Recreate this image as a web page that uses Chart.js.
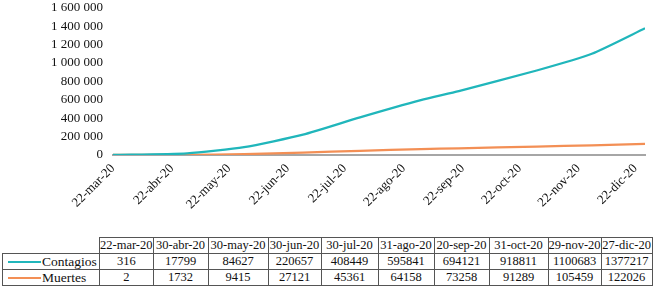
<!DOCTYPE html>
<html>
<head>
<meta charset="utf-8">
<script src="https://cdn.jsdelivr.net/npm/chart.js@4"></script>
<style>
  body { margin: 0; background: #fff; font-family: "Liberation Serif", "Times New Roman", "DejaVu Serif", serif; }
  #wrap { position: relative; width: 655px; height: 294px; overflow: hidden; }
  #chartBox { position: absolute; left: 0; top: -10px; width: 655px; height: 245px; }
  #dataTable {
    position: absolute; left: 2px; top: 237px;
    border-collapse: collapse; table-layout: fixed;
    font-size: 12.5px; color: #111;
  }
  #dataTable td { font-family: "Liberation Serif", "Times New Roman", "DejaVu Serif", serif; border: 1px solid #555; height: 15px; padding: 0; text-align: center; white-space: nowrap; line-height: 15px; overflow: hidden; }
  #dataTable td.blank { border-top: none; border-left: none; }
  #dataTable td.legend { text-align: left; padding-left: 5px; font-size: 13.5px; }
  .key { display: inline-block; width: 33px; height: 2px; vertical-align: middle; margin-right: 1px; position: relative; top: -1px; }
</style>
</head>
<body>
<div id="wrap">
  <div id="chartBox"><canvas id="covidChart"></canvas></div>
  <table id="dataTable"></table>
</div>
<script>
// x axis tick labels (22nd of each month)
const tickLabels = ["22-mar-20", "22-abr-20", "22-may-20", "22-jun-20", "22-jul-20",
                    "22-ago-20", "22-sep-20", "22-oct-20", "22-nov-20", "22-dic-20"];
// dates of the data points (also the table header)
const tableDates = ["22-mar-20", "30-abr-20", "30-may-20", "30-jun-20", "30-jul-20",
                    "31-ago-20", "20-sep-20", "31-oct-20", "29-nov-20", "27-dic-20"];
const contagios = [316, 17799, 84627, 220657, 408449, 595841, 694121, 918811, 1100683, 1377217];
const muertes = [2, 1732, 9415, 27121, 45361, 64158, 73258, 91289, 105459, 122026];
const seriesNames = ["Contagios", "Muertes"];

const tealColor = "#20b6bb";
const orangeColor = "#f38f55";
const fontFamily = '"Liberation Serif", "Times New Roman", "DejaVu Serif", serif';
const colWidths = [97, 53, 55, 60, 53, 57, 56, 55, 59, 52, 51];

const monthIdx = { ene: 0, feb: 1, mar: 2, abr: 3, may: 4, jun: 5, jul: 6, ago: 7, sep: 8, oct: 9, nov: 10, dic: 11 };
function parseDate(s) {
  const [d, m, y] = s.split("-");
  return Date.UTC(2000 + Number(y), monthIdx[m], Number(d));
}
const DAY = 86400000;
const origin = parseDate(tableDates[0]);
const dayOf = s => Math.round((parseDate(s) - origin) / DAY);
const pointDays = tableDates.map(dayOf);
const tickDays = tickLabels.map(dayOf);

function fmt(v) {
  return String(v).replace(/\B(?=(\d{3})+(?!\d))/g, " ");
}

// data table under the chart
const table = document.getElementById("dataTable");
const colgroup = document.createElement("colgroup");
colWidths.forEach(w => {
  const c = document.createElement("col");
  c.style.width = w + "px";
  colgroup.appendChild(c);
});
table.appendChild(colgroup);

const head = document.createElement("tr");
head.innerHTML = '<td class="blank"></td>' + tableDates.map(d => "<td>" + d + "</td>").join("");
table.appendChild(head);

[[seriesNames[0], contagios, tealColor], [seriesNames[1], muertes, orangeColor]].forEach(([name, vals, color]) => {
  const tr = document.createElement("tr");
  tr.innerHTML = '<td class="legend"><span class="key" style="background:' + color + '"></span>' + name + "</td>" +
    vals.map(v => "<td>" + v + "</td>").join("");
  table.appendChild(tr);
});

const ctx = document.getElementById("covidChart").getContext("2d");
new Chart(ctx, {
  type: "line",
  data: {
    datasets: [
      {
        label: seriesNames[0],
        data: contagios.map((v, i) => ({ x: pointDays[i], y: v })),
        borderColor: tealColor,
        borderWidth: 2.25,
        pointRadius: 0,
        tension: 0.2
      },
      {
        label: seriesNames[1],
        data: muertes.map((v, i) => ({ x: pointDays[i], y: v })),
        borderColor: orangeColor,
        borderWidth: 2.25,
        pointRadius: 0,
        tension: 0.2
      }
    ]
  },
  options: {
    responsive: true,
    maintainAspectRatio: false,
    animation: false,
    layout: { padding: { left: 0, right: 10, top: -3, bottom: 0 } },
    plugins: {
      legend: { display: false },
      tooltip: { enabled: false }
    },
    scales: {
      x: {
        type: "linear",
        min: pointDays[0],
        max: pointDays[pointDays.length - 1],
        grid: { display: false, drawTicks: false },
        border: { display: true, color: "#a6a6a6", width: 2 },
        afterBuildTicks: scale => { scale.ticks = tickDays.map(d => ({ value: d })); },
        ticks: {
          color: "#111",
          font: { family: fontFamily, size: 13 },
          minRotation: 45,
          maxRotation: 45,
          padding: 6,
          autoSkip: false,
          callback: (v, i) => tickLabels[i]
        },
        afterFit: scale => { scale.height = 80; }
      },
      y: {
        min: 0,
        max: 1600000,
        grid: { display: false, drawTicks: false },
        border: { display: false },
        ticks: {
          stepSize: 200000,
          autoSkip: false,
          color: "#111",
          font: { family: fontFamily, size: 13 },
          padding: 10,
          callback: v => fmt(v)
        },
        afterFit: scale => { scale.width = 113; }
      }
    }
  }
});
</script>
</body>
</html>
